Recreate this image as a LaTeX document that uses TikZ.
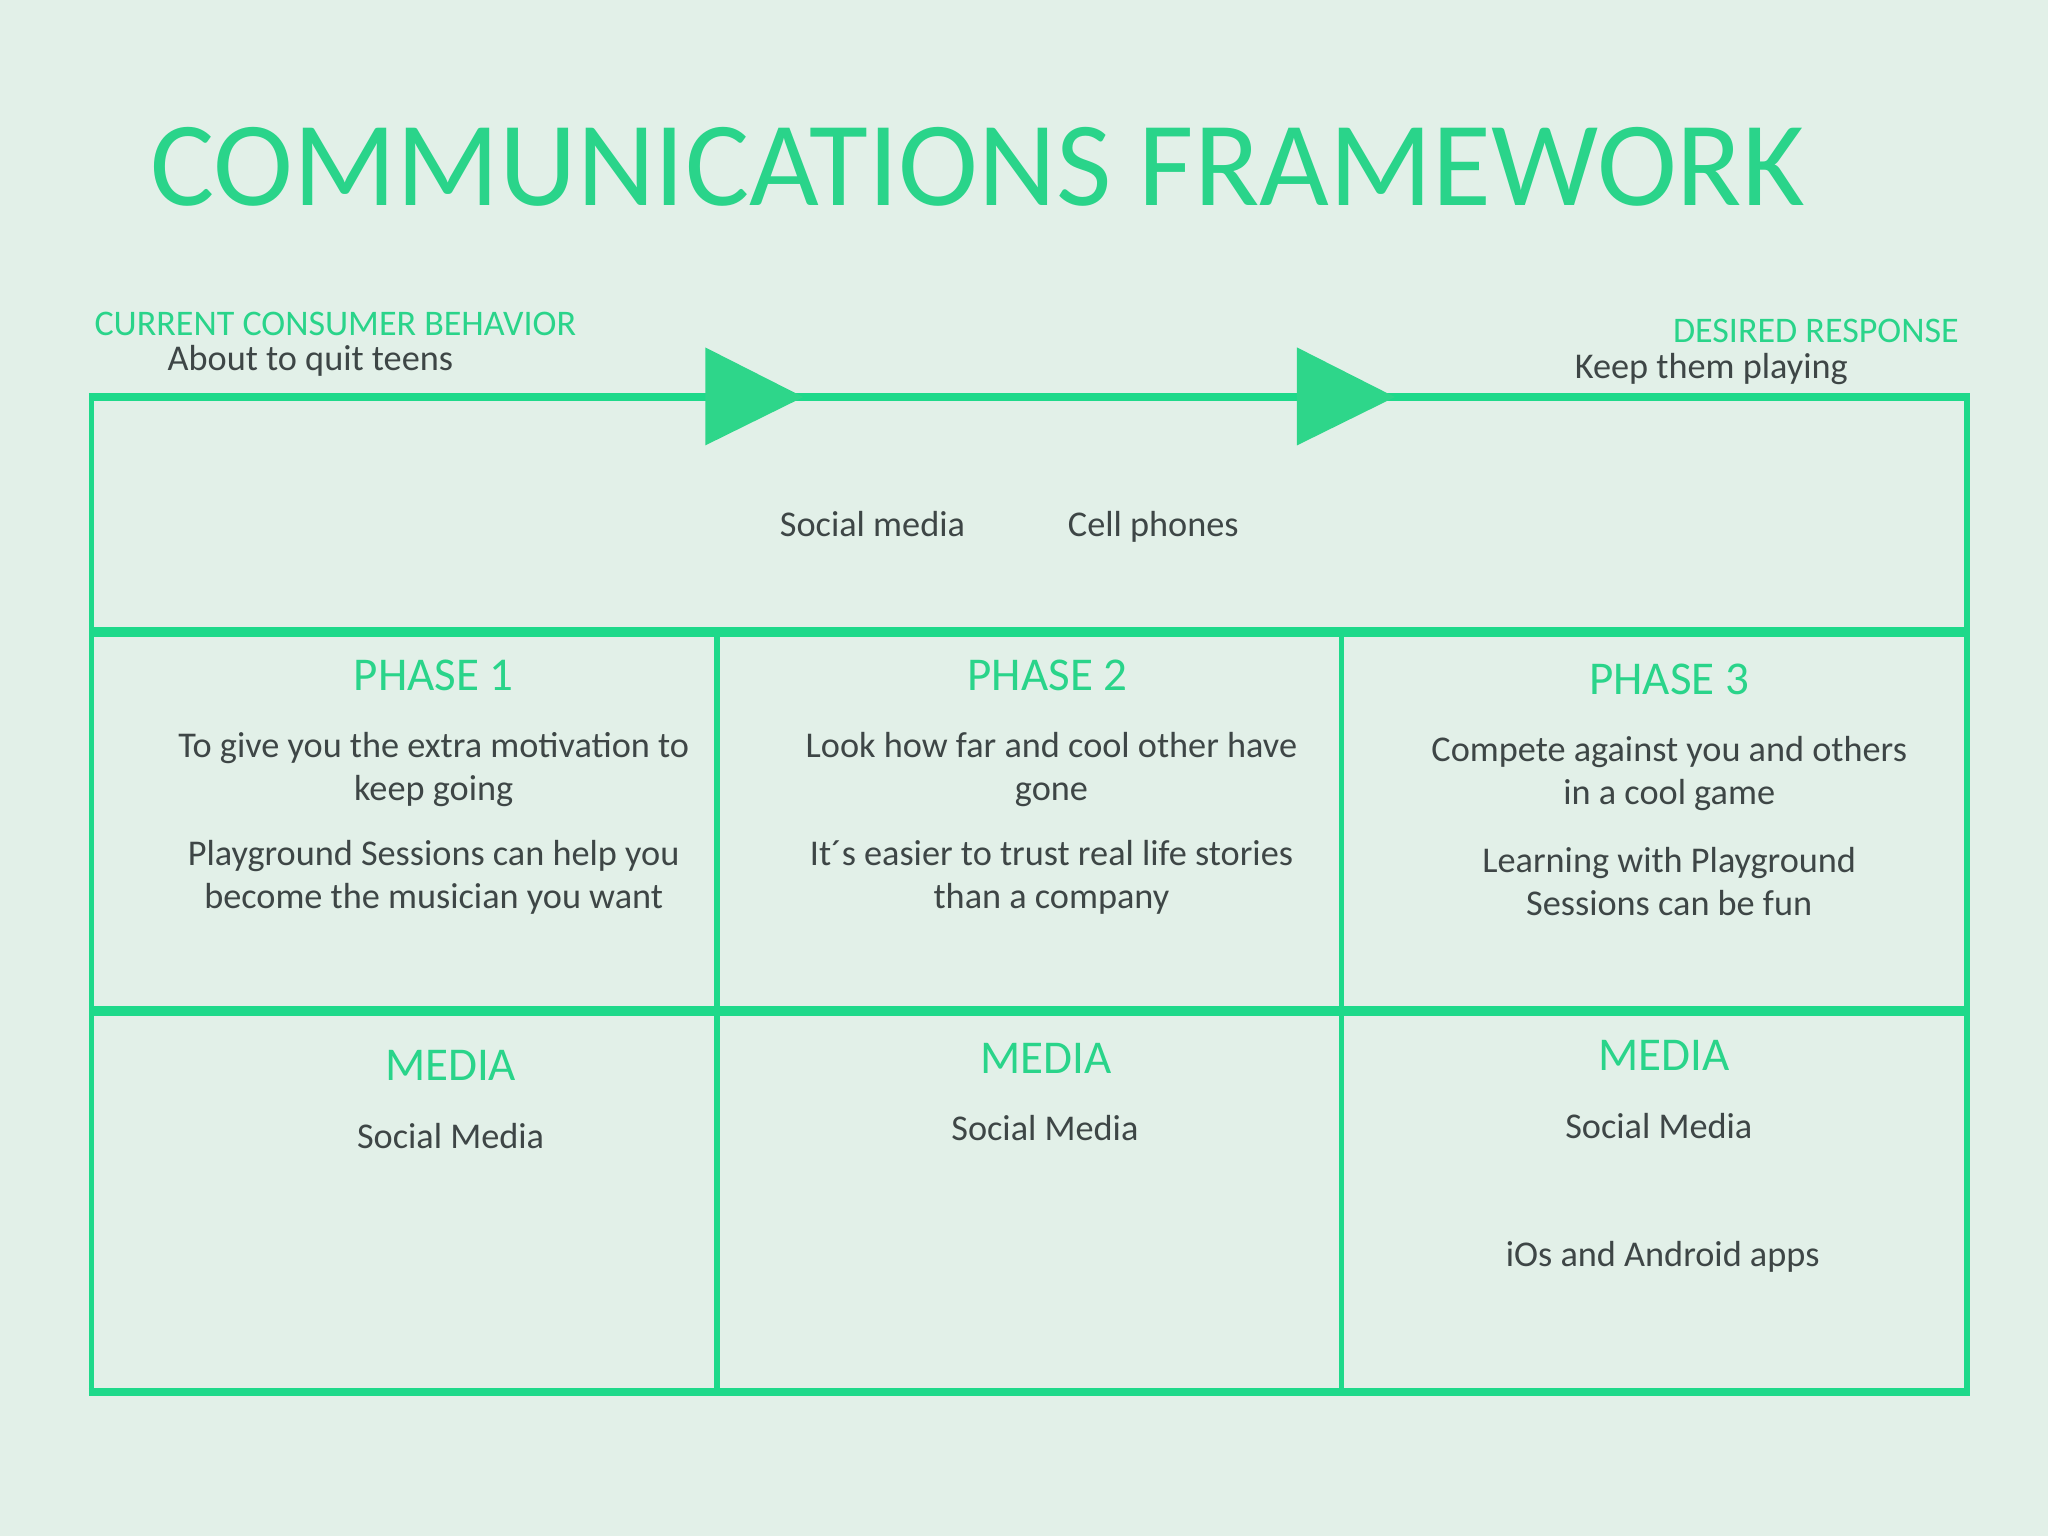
\documentclass[tikz,border=0pt]{standalone}
\usepackage{fontspec}
\setmainfont{Carlito}
\definecolor{bg}{HTML}{E2F0E8}
\definecolor{gline}{HTML}{1ED98A}
\definecolor{gtri}{HTML}{2ED68A}
\definecolor{gtext}{HTML}{2AD48A}
\definecolor{dtext}{HTML}{3E4646}
\begin{document}
\begin{tikzpicture}[x=0.02cm,y=-0.02cm,
  frame/.style={draw=gline,line width=2.27pt},
  heavy/.style={draw=gline,line width=4.5pt},
  tri/.style={fill=gtri,draw=none},
  title/.style={text=gtext,font=\fontsize{52.5}{60}\selectfont,inner sep=0pt},
  label/.style={text=gtext,font=\fontsize{15.7}{18}\selectfont,inner sep=0pt},
  head/.style={text=gtext,font=\fontsize{20.5}{24}\selectfont,inner sep=0pt},
  body/.style={text=dtext,font=\fontsize{15.8}{18.7}\selectfont,align=center,inner sep=0pt},
  ]
\fill[bg] (0,0) rectangle (1568,1176);
\useasboundingbox (0,0) rectangle (1568,1176);
% title
\node[title,anchor=base west] (title) at (115,157) {COMMUNICATIONS FRAMEWORK};
% labels
\node[label,anchor=base west] (cur) at (72,257) {CURRENT CONSUMER BEHAVIOR};
\node[body,anchor=base west] (curt) at (128,284) {About to quit teens};
\node[label,anchor=base east] (des) at (1500,262) {DESIRED RESPONSE};
\node[body,anchor=base east] (dest) at (1415,290) {Keep them playing};
% grid coordinates
\coordinate (tl) at (70,304);
\coordinate (tr) at (1506,304);
\coordinate (bl) at (70,1066);
\coordinate (br) at (1506,1066);
% frame
\draw[frame] (tl) -- (bl) -- (br) -- (tr);
\draw[frame] (549,484) -- (549,1066);
\draw[frame] (1027,484) -- (1027,1066);
\draw[heavy] (70,484) -- (1506,484);
\draw[heavy] (70,774) -- (1506,774);
\draw[draw=gline,line width=3.4pt] (68,1066) -- (1508,1066);
\draw[draw=gline,line width=3.4pt] (68,304) -- (1508,304);
% arrow triangles
\fill[tri] (540,266) -- (615,304) -- (540,341) -- cycle;
\fill[tri] (993,266) -- (1068,304) -- (993,341) -- cycle;
% top row
\node[body,anchor=base] (sm) at (668,411) {Social media};
\node[body,anchor=base] (cp) at (883,411) {Cell phones};
% phases
\node[head] (p1) at (332,517) {PHASE 1};
\node[body] (p1a) at (332,589) {To give you the extra motivation to\\keep going};
\node[body] (p1b) at (332,672) {Playground Sessions can help you\\become the musician you want};
\node[head] (p2) at (802,517) {PHASE 2};
\node[body] (p2a) at (805,589) {Look how far and cool other have\\gone};
\node[body] (p2b) at (805,672) {It´s easier to trust real life stories\\than a company};
\node[head] (p3) at (1278,520) {PHASE 3};
\node[body] (p3a) at (1278,592) {Compete against you and others\\in a cool game};
\node[body] (p3b) at (1278,675) {Learning with Playground\\Sessions can be fun};
% media
\node[head] (m1) at (345,816) {MEDIA};
\node[body] (m1a) at (345,870) {Social Media};
\node[head] (m2) at (801,810) {MEDIA};
\node[body] (m2a) at (800,864) {Social Media};
\node[head] (m3) at (1274,808) {MEDIA};
\node[body] (m3a) at (1270,862) {Social Media};
\node[body] (m3b) at (1273,962) {iOs and Android apps};
\end{tikzpicture}
\end{document}
